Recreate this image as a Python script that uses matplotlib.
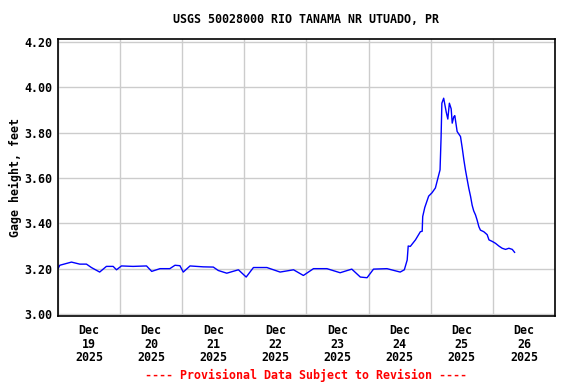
import matplotlib
matplotlib.use('Agg')
import matplotlib.pyplot as plt
import matplotlib.dates as mdates
import numpy as np
from datetime import datetime, timedelta

# hours after 2025-12-19 00:00 and gage height (ft)
hours = [0, 0.7, 5.2, 8.4, 11, 12.9, 16.1, 18.7, 21.3, 22.6, 24.5, 29, 34.2,
         36.2, 39.4, 43.2, 45.2, 47.1, 48.4, 51, 56.1, 60, 61.9, 65.2, 69.7,
         72.7, 75.5, 80.7, 85.8, 91, 94.8, 98.7, 103.9, 109, 113.5, 116.8,
         119.4, 121.9, 127.1, 132.2, 133.8, 134.9, 135.3, 136.1, 138.1, 140,
         140.7, 140.9, 141.7, 143.2, 144.5, 145.8, 146.9, 147.6, 148, 148.3,
         149, 150, 150.6, 151.2, 151.9, 152.3, 152.9, 153.3, 154.2, 155.5,
         156.2, 156.8, 157.4, 158.1, 158.7, 159.4, 160, 160.6, 161.3, 161.9,
         162.6, 163.2, 164.5, 165.8, 166.5, 167.8, 169, 170.3, 171.6, 172.9,
         174.2, 175.5, 176.4]
gage = [3.20, 3.215, 3.229, 3.22, 3.22, 3.205, 3.185, 3.21, 3.21, 3.195,
        3.212, 3.21, 3.212, 3.188, 3.20, 3.20, 3.215, 3.213, 3.185, 3.212,
        3.208, 3.207, 3.192, 3.18, 3.195, 3.163, 3.205, 3.205, 3.185, 3.195,
        3.17, 3.20, 3.20, 3.182, 3.198, 3.163, 3.16, 3.198, 3.20, 3.185,
        3.195, 3.238, 3.30, 3.298, 3.327, 3.363, 3.365, 3.43, 3.47, 3.52,
        3.535, 3.556, 3.605, 3.636, 3.78, 3.93, 3.952, 3.89, 3.86, 3.93,
        3.905, 3.842, 3.87, 3.875, 3.805, 3.783, 3.73, 3.68, 3.636, 3.592,
        3.555, 3.518, 3.48, 3.455, 3.437, 3.415, 3.385, 3.37, 3.363, 3.35,
        3.327, 3.32, 3.312, 3.30, 3.29, 3.285, 3.29, 3.285, 3.272]
yticks = [3.00, 3.20, 3.40, 3.60, 3.80, 4.00, 4.20]

start = datetime(2025, 12, 19)
times = [start + timedelta(hours=h) for h in hours]

mono = {'family': 'DejaVu Sans Mono', 'weight': 'bold', 'size': 8.4}

fig = plt.figure(figsize=(5.76, 3.84), dpi=100)
ax = fig.add_axes([0.1007, 0.177, 0.8628, 0.7213])

ax.plot(times, gage, '-', color='#0000ff', lw=1.0)

ax.set_xlim(start, start + timedelta(days=8))
ax.set_ylim(2.991, 4.213)

ax.set_yticks(yticks)
ax.set_yticklabels(['%.2f' % v for v in yticks], fontdict=mono)

ax.xaxis.set_minor_locator(mdates.DayLocator())
ax.xaxis.set_major_locator(mdates.HourLocator(byhour=[12]))
ax.xaxis.set_major_formatter(mdates.DateFormatter('%b\n%d\n%Y'))
for lab in ax.get_xticklabels():
    lab.set_fontproperties(matplotlib.font_manager.FontProperties(**mono))
    lab.set_linespacing(1.02)

ax.grid(True, axis='y', color='#cccccc', lw=1)
ax.grid(True, axis='x', which='minor', color='#cccccc', lw=1)
ax.tick_params(length=0, pad=4)
ax.tick_params(axis='x', which='both', length=0, pad=6)
for s in ax.spines.values():
    s.set_linewidth(1.2)

ax.set_ylabel('Gage height, feet', fontdict=mono, labelpad=2)
fig.text(0.532, 0.948, 'USGS 50028000 RIO TANAMA NR UTUADO, PR', ha='center',
         va='center', fontdict=mono)
fig.text(0.532, 0.023, '---- Provisional Data Subject to Revision ----',
         ha='center', va='center', color='red', fontdict=mono)

fig.savefig('out.png', dpi=100)
